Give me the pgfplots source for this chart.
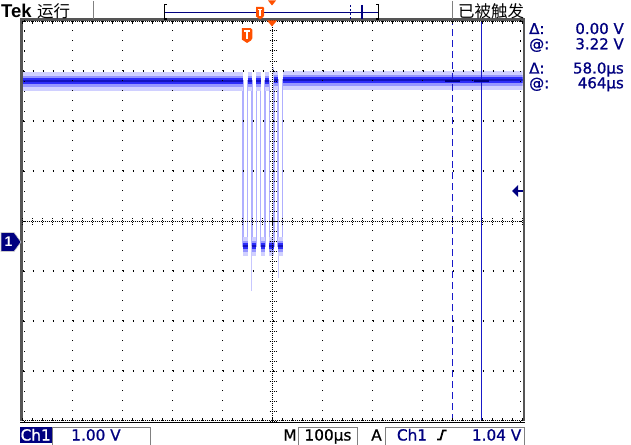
\documentclass[border=0pt]{standalone}
\usepackage{fontspec}
\setmainfont{DejaVu Sans}
\newfontfamily\tek[FakeBold=0.8]{DejaVu Sans}
\newfontfamily\lib{Liberation Sans}
\newfontfamily\cjk{Noto Sans CJK SC}
\usepackage{pgfplots}
\usepackage{pgfplotstable}
\pgfplotsset{compat=1.18}
\definecolor{tnavy}{RGB}{0,0,128}
\definecolor{tcursor}{RGB}{25,25,200}
\definecolor{tframe}{RGB}{85,85,85}
\definecolor{tbox}{RGB}{128,128,128}
\definecolor{torange}{RGB}{255,80,0}
\definecolor{bandA}{RGB}{208,208,255}
\definecolor{bandB}{RGB}{150,150,255}
\definecolor{bandC}{RGB}{45,45,250}
\definecolor{bandD}{RGB}{20,20,190}
\definecolor{edge}{RGB}{175,175,255}

% CH1 trace, time in us from trigger, volts
\pgfplotstableread{
t v
-500 3.22
-59 3.22
-59 -0.08
-50 -0.08
-50 3.22
-41.5 3.22
-41.5 -0.08
-32.5 -0.08
-32.5 3.22
-24 3.22
-24 -0.08
-15 -0.08
-15 3.22
-6.5 3.22
-6.5 -0.08
2.5 -0.08
2.5 3.24
11 3.24
11 -0.08
20 -0.08
20 3.24
500 3.24
}\tracefull

% flat parts only (noisy band)
\pgfplotstableread{
t v
-500 3.22
-59 3.22
nan nan
-59 -0.08
-50 -0.08
nan nan
-50 3.22
-41.5 3.22
nan nan
-41.5 -0.08
-32.5 -0.08
nan nan
-32.5 3.22
-24 3.22
nan nan
-24 -0.08
-15 -0.08
nan nan
-15 3.22
-6.5 3.22
nan nan
-6.5 -0.08
2.5 -0.08
nan nan
2.5 3.24
11 3.24
nan nan
11 -0.08
20 -0.08
nan nan
20 3.24
500 3.24
}\traceflat

\begin{document}
\begin{tikzpicture}
\fill[white] (0pt,0pt) rectangle (631pt,-444pt);
\begin{axis}[
  at={(22.5pt,-421pt)}, anchor=south west,
  scale only axis, width=500pt, height=400pt,
  xmin=-500, xmax=500, ymin=-3.58, ymax=4.42,
  axis line style={draw=none},
  xtick={-400,-300,-200,-100,100,200,300,400},
  ytick={3.42,2.42,1.42,-0.58,-1.58,-2.58},
  xticklabels={}, yticklabels={},
  major tick length=0pt,
  grid=major,
  major grid style={black, line width=1.1pt, dash pattern=on 1.1pt off 8.9pt},
  axis on top,
  unbounded coords=jump,
]
\addplot[edge, line width=1.5pt, line cap=butt] table {\tracefull};
\addplot[edge!70, line width=0.8pt] coordinates {(-41.5,-0.08) (-41.5,-0.98)};
\addplot[edge!70, line width=0.8pt] coordinates {(11,-0.08) (11,-0.72)};
\addplot[edge!70, line width=0.8pt] coordinates {(2.5,3.22) (2.5,3.5)};
\addplot[bandA, line width=19pt, line cap=butt] table {\traceflat};
\addplot[bandB, line width=11pt, line cap=butt] table {\traceflat};
\addplot[bandC, line width=6pt, line cap=butt] table {\traceflat};
\addplot[bandD, line width=1.5pt, line cap=butt] table {\traceflat};
% cursors
\draw[tcursor, line width=1.3pt, dash pattern=on 7pt off 4pt] (axis cs:360,-3.58) -- (axis cs:360,4.42);
\draw[tcursor, line width=1.2pt] (axis cs:418,-3.58) -- (axis cs:418,4.42);
\draw[tnavy, line width=2pt] (axis cs:345,3.22) -- (axis cs:375,3.22);
\draw[tnavy, line width=2pt] (axis cs:403,3.22) -- (axis cs:433,3.22);
\end{axis}

\begin{scope}[x=1pt, y=-1pt]
% graticule frame and edge marks
\draw[tframe, line width=2.6pt] (21.2,19.5) -- (21.2,421);
\draw[tframe, line width=2.6pt] (524,19.5) -- (524,421);
\draw[tframe, line width=2.6pt] (20,19.5) -- (525.3,19.5);
\draw[black, line width=1pt] (20,422.5) -- (525.3,422.5);
\draw[black, line width=0.9pt, dash pattern=on 0.9pt off 1.1pt] (22.5,21.5) -- (522.5,21.5);
\draw[black, line width=0.9pt, dash pattern=on 0.9pt off 1.1pt] (22.5,420.5) -- (522.5,420.5);
\foreach \x in {22.5,32.5,...,522.5} {
  \draw[black, line width=0.9pt] (\x,21) -- (\x,24);
  \draw[black, line width=0.9pt] (\x,421) -- (\x,418);
}
\foreach \y in {21,31,...,421} {
  \fill[black] (23.9,\y-0.5) rectangle +(1.1,1.1);
  \fill[black] (520,\y-0.5) rectangle +(1.1,1.1);
}
% centre cross
\draw[black, line width=1pt, dash pattern=on 1pt off 1pt] (272.5,21) -- (272.5,421);
\draw[black, line width=1pt, dash pattern=on 1pt off 1pt] (22.5,221) -- (522.5,221);
\foreach \y in {21,31,...,421}
  \draw[black, line width=1pt, dash pattern=on 1pt off 1pt] (269.5,\y) -- (276,\y);
\foreach \x in {22.5,32.5,...,522.5}
  \draw[black, line width=1pt, dash pattern=on 1pt off 1pt] (\x,218) -- (\x,224.5);

% markers
\fill[tnavy, draw=white!80!black, line width=0.6pt] (1,232.5) -- (14,232.5) -- (21,242) -- (14,251.5) -- (1,251.5) -- cycle;
\node[text=white, font=\lib\bfseries\fontsize{14}{14}\selectfont, inner sep=0pt] at (8.5,242) {1};
\fill[tnavy] (512,191) -- (518,185) -- (518,197) -- cycle;
\draw[tnavy, line width=2pt] (517,191) -- (522.5,191);
\fill[torange] (267,20.5) -- (277,20.5) -- (272,26.5) -- cycle;
\fill[torange, rounded corners=1.5pt] (241.8,28.2) -- (252.4,28.2) -- (252.4,39.5) [sharp corners] -- (247.1,43) -- (241.8,39.5) -- cycle;
\draw[white, line width=1.8pt] (244.2,31.2) -- (250,31.2);
\draw[white, line width=2pt] (247.1,31.2) -- (247.1,39.5);

% top bar
\node[anchor=base west, inner sep=0pt, font=\lib\bfseries\fontsize{18.5}{18.5}\selectfont] at (1,17.5) {Tek};
\node[anchor=base west, inner sep=0pt, font=\cjk\fontsize{16.5}{16.5}\selectfont] at (37,17.3) {运行};
\node[anchor=base west, inner sep=0pt, font=\cjk\fontsize{16.5}{16.5}\selectfont] at (458,17.3) {已被触发};
\draw[tbox, line width=1pt] (93,1) -- (93,19.5);
\draw[tbox, line width=1pt] (452.5,1) -- (452.5,19.5);
\draw[tnavy, line width=1pt] (164.5,12.5) -- (378.5,12.5);
\draw[black, line width=1.2pt] (167,4.5) -- (164.5,4.5) -- (164.5,19) -- (167,19);
\draw[black, line width=1.2pt] (376,4.5) -- (378.5,4.5) -- (378.5,19) -- (376,19);
\draw[tnavy, line width=1pt, dash pattern=on 2.5pt off 1.5pt] (350,5) -- (350,19);
\draw[tnavy, line width=1.2pt] (362,5) -- (362,19);
\fill[torange] (268,0.5) -- (276,0.5) -- (272,5.5) -- cycle;
\fill[torange, rounded corners=1pt] (256,7) -- (264,7) -- (264,16.5) [sharp corners] -- (260,19.5) -- (256,16.5) -- cycle;
\draw[white, line width=1.3pt] (257.8,9.3) -- (262.2,9.3);
\draw[white, line width=1.5pt] (260,9.3) -- (260,16.5);

% right readouts
\begin{scope}[every node/.style={inner sep=0pt, text=tnavy, font=\tek\fontsize{15}{15}\selectfont}]
\node[anchor=base west] at (529,34) {Δ:};
\node[anchor=base east] at (624,34) {0.00 V};
\node[anchor=base west] at (529,49.3) {@:};
\node[anchor=base east] at (624,49.3) {3.22 V};
\node[anchor=base west] at (529,73.5) {Δ:};
\node[anchor=base east] at (624,73.5) {58.0µs};
\node[anchor=base west] at (529,88.3) {@:};
\node[anchor=base east] at (624,88.3) {464µs};
\end{scope}

% bottom bar
\begin{scope}[every node/.style={inner sep=0pt, font=\tek\fontsize{15.3}{15.3}\selectfont}]
\fill[tnavy] (20,426.5) rectangle (51.5,442.5);
\node[anchor=base, text=white] at (35.7,440.5) {Ch1};
\draw[tbox, line width=1pt] (52.5,444.5) -- (52.5,427) -- (150,427) -- (150,444.5);
\node[anchor=base, text=tnavy] at (96,440.5) {1.00 V};
\node[anchor=base] at (290,440.5) {M};
\draw[tbox, line width=1pt] (298.5,444.5) -- (298.5,427) -- (357.5,427) -- (357.5,444.5);
\node[anchor=base] at (328,440.5) {100µs};
\node[anchor=base] at (376.5,440.5) {A};
\draw[tbox, line width=1pt] (385,444.5) -- (385,427) -- (524.5,427) -- (524.5,444.5);
\node[anchor=base, text=tnavy] at (412,440.5) {Ch1};
\draw[black, line width=1.8pt] (437,439.5) -- (440.5,439.5) -- (443,430.5) -- (446.5,430.5);
\node[anchor=base east, text=tnavy] at (521.5,440.5) {1.04 V};
\end{scope}
\end{scope}

\pgfresetboundingbox
\path (0pt,0pt) rectangle (631pt,-444pt);
\end{tikzpicture}
\end{document}
